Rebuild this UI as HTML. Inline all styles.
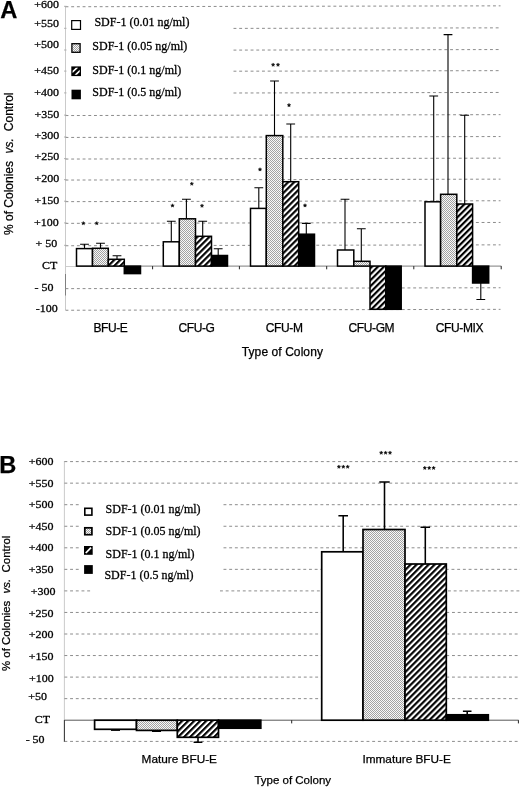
<!DOCTYPE html>
<html><head><meta charset="utf-8"><title>Figure</title>
<style>
html,body{margin:0;padding:0;background:#fff;}
body{width:520px;height:788px;overflow:hidden;font-family:"Liberation Sans",sans-serif;}
svg{display:block;filter:grayscale(1);}
.ser{font-family:"Liberation Serif",serif;stroke:#000;stroke-width:0.28px;}
.san{font-family:"Liberation Sans",sans-serif;stroke:#000;stroke-width:0.25px;}
</style></head><body>
<svg width="520" height="788" viewBox="0 0 520 788">
<defs>
<pattern id="dots" width="2" height="2" patternUnits="userSpaceOnUse">
<rect width="2" height="2" fill="#f8f8f8"/>
<rect x="0" y="0" width="1" height="1" fill="#a2a2a2"/>
<rect x="1" y="1" width="1" height="1" fill="#a2a2a2"/>
</pattern>
<pattern id="hatch" width="4.25" height="4.25" patternUnits="userSpaceOnUse" patternTransform="rotate(-45)">
<rect width="4.25" height="4.25" fill="#fff"/>
<rect x="0" y="0" width="4.25" height="2.15" fill="#000"/>
</pattern>
<pattern id="hatchs" width="3" height="3" patternUnits="userSpaceOnUse" patternTransform="rotate(-45)">
<rect width="3" height="3" fill="#fff"/>
<rect x="0" y="0" width="3" height="1.6" fill="#000"/>
</pattern>
</defs>
<rect width="520" height="788" fill="#fff"/>

<line x1="65.5" y1="6" x2="65.5" y2="310" stroke="#c4c4c4" stroke-width="0.9"/>
<line x1="65.5" y1="274" x2="65.5" y2="295.5" stroke="#777" stroke-width="0.9"/>
<line x1="65.5" y1="6.75" x2="500.5" y2="5.85" stroke="#8c8c8c" stroke-width="1.0" stroke-dasharray="2.9 2.8"/>
<line x1="233.5" y1="28.40" x2="500.5" y2="27.85" stroke="#8c8c8c" stroke-width="1.0" stroke-dasharray="2.9 2.8"/>
<line x1="233.5" y1="50.10" x2="500.5" y2="49.55" stroke="#8c8c8c" stroke-width="1.0" stroke-dasharray="2.9 2.8"/>
<line x1="233.5" y1="71.20" x2="500.5" y2="70.65" stroke="#8c8c8c" stroke-width="1.0" stroke-dasharray="2.9 2.8"/>
<line x1="233.5" y1="93.00" x2="500.5" y2="92.45" stroke="#8c8c8c" stroke-width="1.0" stroke-dasharray="2.9 2.8"/>
<line x1="65.5" y1="115.55" x2="500.5" y2="114.65" stroke="#8c8c8c" stroke-width="1.0" stroke-dasharray="2.9 2.8"/>
<line x1="65.5" y1="137.45" x2="500.5" y2="136.55" stroke="#8c8c8c" stroke-width="1.0" stroke-dasharray="2.9 2.8"/>
<line x1="65.5" y1="159.05" x2="500.5" y2="158.15" stroke="#8c8c8c" stroke-width="1.0" stroke-dasharray="2.9 2.8"/>
<line x1="65.5" y1="180.05" x2="500.5" y2="179.15" stroke="#8c8c8c" stroke-width="1.0" stroke-dasharray="2.9 2.8"/>
<line x1="65.5" y1="201.65" x2="500.5" y2="200.75" stroke="#8c8c8c" stroke-width="1.0" stroke-dasharray="2.9 2.8"/>
<line x1="65.5" y1="223.35" x2="500.5" y2="222.45" stroke="#8c8c8c" stroke-width="1.0" stroke-dasharray="2.9 2.8"/>
<line x1="65.5" y1="245.75" x2="500.5" y2="244.85" stroke="#8c8c8c" stroke-width="1.0" stroke-dasharray="2.9 2.8"/>
<line x1="65.5" y1="288.65" x2="500.5" y2="287.75" stroke="#8c8c8c" stroke-width="1.0" stroke-dasharray="2.9 2.8"/>
<line x1="65.5" y1="310.25" x2="500.5" y2="309.35" stroke="#8c8c8c" stroke-width="1.0" stroke-dasharray="2.9 2.8"/>
<line x1="64.0" y1="6.30" x2="66.5" y2="6.30" stroke="#aaa" stroke-width="0.9"/>
<line x1="64.0" y1="28.30" x2="66.5" y2="28.30" stroke="#aaa" stroke-width="0.9"/>
<line x1="64.0" y1="50.00" x2="66.5" y2="50.00" stroke="#aaa" stroke-width="0.9"/>
<line x1="64.0" y1="71.10" x2="66.5" y2="71.10" stroke="#aaa" stroke-width="0.9"/>
<line x1="64.0" y1="92.90" x2="66.5" y2="92.90" stroke="#aaa" stroke-width="0.9"/>
<line x1="64.0" y1="115.10" x2="66.5" y2="115.10" stroke="#aaa" stroke-width="0.9"/>
<line x1="64.0" y1="137.00" x2="66.5" y2="137.00" stroke="#aaa" stroke-width="0.9"/>
<line x1="64.0" y1="158.60" x2="66.5" y2="158.60" stroke="#aaa" stroke-width="0.9"/>
<line x1="64.0" y1="179.60" x2="66.5" y2="179.60" stroke="#aaa" stroke-width="0.9"/>
<line x1="64.0" y1="201.20" x2="66.5" y2="201.20" stroke="#aaa" stroke-width="0.9"/>
<line x1="64.0" y1="222.90" x2="66.5" y2="222.90" stroke="#aaa" stroke-width="0.9"/>
<line x1="64.0" y1="245.30" x2="66.5" y2="245.30" stroke="#aaa" stroke-width="0.9"/>
<line x1="65.5" y1="266.5" x2="76.5" y2="266.5" stroke="#c8c8c8" stroke-width="0.9"/>
<line x1="76.5" y1="266.1" x2="501.3" y2="266.1" stroke="#666" stroke-width="0.85"/>
<line x1="152.6" y1="266.1" x2="152.6" y2="269.3" stroke="#222" stroke-width="1"/>
<line x1="239.4" y1="266.1" x2="239.4" y2="269.3" stroke="#222" stroke-width="1"/>
<line x1="326.7" y1="266.1" x2="326.7" y2="269.3" stroke="#222" stroke-width="1"/>
<line x1="413.8" y1="266.1" x2="413.8" y2="269.3" stroke="#222" stroke-width="1"/>
<line x1="501.2" y1="266.1" x2="501.2" y2="269.3" stroke="#222" stroke-width="1"/>
<path d="M84.50,248.60 L84.50,244.30 M80.10,244.30 L88.90,244.30" stroke="#000" stroke-width="1.1" fill="none"/>
<path d="M100.50,248.30 L100.50,243.30 M96.10,243.30 L104.90,243.30" stroke="#000" stroke-width="1.1" fill="none"/>
<path d="M117.00,259.30 L117.00,255.80 M112.60,255.80 L121.40,255.80" stroke="#000" stroke-width="1.1" fill="none"/>
<path d="M171.30,241.80 L171.30,221.30 M166.90,221.30 L175.70,221.30" stroke="#000" stroke-width="1.1" fill="none"/>
<path d="M186.40,218.80 L186.40,199.30 M182.00,199.30 L190.80,199.30" stroke="#000" stroke-width="1.1" fill="none"/>
<path d="M202.70,236.30 L202.70,221.30 M198.30,221.30 L207.10,221.30" stroke="#000" stroke-width="1.1" fill="none"/>
<path d="M218.20,255.50 L218.20,248.80 M213.80,248.80 L222.60,248.80" stroke="#000" stroke-width="1.1" fill="none"/>
<path d="M258.80,208.40 L258.80,187.70 M254.40,187.70 L263.20,187.70" stroke="#000" stroke-width="1.1" fill="none"/>
<path d="M274.50,135.60 L274.50,81.00 M270.10,81.00 L278.90,81.00" stroke="#000" stroke-width="1.1" fill="none"/>
<path d="M290.70,181.70 L290.70,124.00 M286.30,124.00 L295.10,124.00" stroke="#000" stroke-width="1.1" fill="none"/>
<path d="M306.30,234.20 L306.30,223.40 M301.90,223.40 L310.70,223.40" stroke="#000" stroke-width="1.1" fill="none"/>
<path d="M345.00,250.00 L345.00,199.30 M340.60,199.30 L349.40,199.30" stroke="#000" stroke-width="1.1" fill="none"/>
<path d="M361.30,261.30 L361.30,228.80 M356.90,228.80 L365.70,228.80" stroke="#000" stroke-width="1.1" fill="none"/>
<path d="M433.70,201.80 L433.70,96.00 M429.30,96.00 L438.10,96.00" stroke="#000" stroke-width="1.1" fill="none"/>
<path d="M448.00,194.30 L448.00,34.60 M443.60,34.60 L452.40,34.60" stroke="#000" stroke-width="1.1" fill="none"/>
<path d="M464.70,204.00 L464.70,115.30 M460.30,115.30 L469.10,115.30" stroke="#000" stroke-width="1.1" fill="none"/>
<path d="M480.80,283.00 L480.80,299.50 M476.40,299.50 L485.20,299.50" stroke="#000" stroke-width="1.1" fill="none"/>
<rect x="76.50" y="248.60" width="16.00" height="17.50" fill="#fff" stroke="#000" stroke-width="1.5"/>
<rect x="92.50" y="248.30" width="15.80" height="17.80" fill="url(#dots)" stroke="#000" stroke-width="1.5"/>
<rect x="108.30" y="259.30" width="16.00" height="6.80" fill="url(#hatch)" stroke="#000" stroke-width="1.5"/>
<rect x="124.30" y="266.10" width="16.20" height="7.50" fill="#000" stroke="#000" stroke-width="1.5"/>
<rect x="163.30" y="241.80" width="16.00" height="24.30" fill="#fff" stroke="#000" stroke-width="1.5"/>
<rect x="179.30" y="218.80" width="16.20" height="47.30" fill="url(#dots)" stroke="#000" stroke-width="1.5"/>
<rect x="195.50" y="236.30" width="16.00" height="29.80" fill="url(#hatch)" stroke="#000" stroke-width="1.5"/>
<rect x="211.50" y="255.50" width="16.00" height="10.60" fill="#000" stroke="#000" stroke-width="1.5"/>
<rect x="250.50" y="208.40" width="15.80" height="57.70" fill="#fff" stroke="#000" stroke-width="1.5"/>
<rect x="266.30" y="135.60" width="16.50" height="130.50" fill="url(#dots)" stroke="#000" stroke-width="1.5"/>
<rect x="282.80" y="181.70" width="15.90" height="84.40" fill="url(#hatch)" stroke="#000" stroke-width="1.5"/>
<rect x="298.70" y="234.20" width="15.80" height="31.90" fill="#000" stroke="#000" stroke-width="1.5"/>
<rect x="337.50" y="250.00" width="16.30" height="16.10" fill="#fff" stroke="#000" stroke-width="1.5"/>
<rect x="353.80" y="261.30" width="16.20" height="4.80" fill="url(#dots)" stroke="#000" stroke-width="1.5"/>
<rect x="370.00" y="266.10" width="15.80" height="43.20" fill="url(#hatch)" stroke="#000" stroke-width="1.5"/>
<rect x="385.80" y="266.10" width="15.40" height="43.20" fill="#000" stroke="#000" stroke-width="1.5"/>
<rect x="425.00" y="201.80" width="15.60" height="64.30" fill="#fff" stroke="#000" stroke-width="1.5"/>
<rect x="440.60" y="194.30" width="16.20" height="71.80" fill="url(#dots)" stroke="#000" stroke-width="1.5"/>
<rect x="456.80" y="204.00" width="15.80" height="62.10" fill="url(#hatch)" stroke="#000" stroke-width="1.5"/>
<rect x="472.60" y="266.10" width="16.10" height="16.90" fill="#000" stroke="#000" stroke-width="1.5"/>
<path transform="translate(83.30,223.30)" d="M0.00,-1.85 L0.46,-0.63 L1.76,-0.57 L0.74,0.24 L1.09,1.50 L0.00,0.78 L-1.09,1.50 L-0.74,0.24 L-1.76,-0.57 L-0.46,-0.63 Z" fill="#000" stroke="#000" stroke-width="0.45" stroke-linejoin="round"/>
<path transform="translate(96.80,223.30)" d="M0.00,-1.85 L0.46,-0.63 L1.76,-0.57 L0.74,0.24 L1.09,1.50 L0.00,0.78 L-1.09,1.50 L-0.74,0.24 L-1.76,-0.57 L-0.46,-0.63 Z" fill="#000" stroke="#000" stroke-width="0.45" stroke-linejoin="round"/>
<path transform="translate(172.50,205.60)" d="M0.00,-1.85 L0.46,-0.63 L1.76,-0.57 L0.74,0.24 L1.09,1.50 L0.00,0.78 L-1.09,1.50 L-0.74,0.24 L-1.76,-0.57 L-0.46,-0.63 Z" fill="#000" stroke="#000" stroke-width="0.45" stroke-linejoin="round"/>
<path transform="translate(191.80,183.80)" d="M0.00,-1.85 L0.46,-0.63 L1.76,-0.57 L0.74,0.24 L1.09,1.50 L0.00,0.78 L-1.09,1.50 L-0.74,0.24 L-1.76,-0.57 L-0.46,-0.63 Z" fill="#000" stroke="#000" stroke-width="0.45" stroke-linejoin="round"/>
<path transform="translate(202.00,205.80)" d="M0.00,-1.85 L0.46,-0.63 L1.76,-0.57 L0.74,0.24 L1.09,1.50 L0.00,0.78 L-1.09,1.50 L-0.74,0.24 L-1.76,-0.57 L-0.46,-0.63 Z" fill="#000" stroke="#000" stroke-width="0.45" stroke-linejoin="round"/>
<path transform="translate(260.00,169.50)" d="M0.00,-1.85 L0.46,-0.63 L1.76,-0.57 L0.74,0.24 L1.09,1.50 L0.00,0.78 L-1.09,1.50 L-0.74,0.24 L-1.76,-0.57 L-0.46,-0.63 Z" fill="#000" stroke="#000" stroke-width="0.45" stroke-linejoin="round"/>
<path transform="translate(273.10,64.80)" d="M0.00,-1.85 L0.46,-0.63 L1.76,-0.57 L0.74,0.24 L1.09,1.50 L0.00,0.78 L-1.09,1.50 L-0.74,0.24 L-1.76,-0.57 L-0.46,-0.63 Z" fill="#000" stroke="#000" stroke-width="0.45" stroke-linejoin="round"/>
<path transform="translate(278.00,64.80)" d="M0.00,-1.85 L0.46,-0.63 L1.76,-0.57 L0.74,0.24 L1.09,1.50 L0.00,0.78 L-1.09,1.50 L-0.74,0.24 L-1.76,-0.57 L-0.46,-0.63 Z" fill="#000" stroke="#000" stroke-width="0.45" stroke-linejoin="round"/>
<path transform="translate(289.00,105.20)" d="M0.00,-1.85 L0.46,-0.63 L1.76,-0.57 L0.74,0.24 L1.09,1.50 L0.00,0.78 L-1.09,1.50 L-0.74,0.24 L-1.76,-0.57 L-0.46,-0.63 Z" fill="#000" stroke="#000" stroke-width="0.45" stroke-linejoin="round"/>
<path transform="translate(305.00,205.50)" d="M0.00,-1.85 L0.46,-0.63 L1.76,-0.57 L0.74,0.24 L1.09,1.50 L0.00,0.78 L-1.09,1.50 L-0.74,0.24 L-1.76,-0.57 L-0.46,-0.63 Z" fill="#000" stroke="#000" stroke-width="0.45" stroke-linejoin="round"/>
<rect x="71.7" y="20.6" width="8.8" height="8.8" fill="#fff" stroke="#000" stroke-width="1.2"/>
<rect x="71.9" y="43.7" width="8.2" height="8.6" fill="url(#dots)" stroke="#000" stroke-width="1.3"/>
<g transform="translate(71.3,66.4)"><rect x="0" y="0" width="9.7" height="9.7" fill="#000"/><path d="M1.3,6.6 L1.3,4.3 L4.5,1.3 L6.9,1.3 Z M3.2,8.4 L8.4,3.4 L8.4,5.7 L5.6,8.4 Z" fill="#fff"/></g>
<rect x="71.5" y="89.7" width="9.4" height="9.6" fill="#000"/>
<text class="ser" x="94.40" y="26.20" font-size="12" text-anchor="start" >SDF-1 (0.01 ng/ml)</text>
<text class="ser" x="92.30" y="49.60" font-size="12" text-anchor="start" >SDF-1 (0.05 ng/ml)</text>
<text class="ser" x="92.30" y="73.60" font-size="12" text-anchor="start" >SDF-1 (0.1 ng/ml)</text>
<text class="ser" x="92.30" y="95.80" font-size="12" text-anchor="start" >SDF-1 (0.5 ng/ml)</text>
<text class="ser" transform="translate(58.90,7.80) scale(1.07,1)" font-size="11.2" text-anchor="end">+600</text>
<text class="ser" transform="translate(58.90,27.10) scale(1.07,1)" font-size="11.2" text-anchor="end">+550</text>
<text class="ser" transform="translate(58.90,48.40) scale(1.07,1)" font-size="11.2" text-anchor="end">+500</text>
<text class="ser" transform="translate(58.90,73.90) scale(1.07,1)" font-size="11.2" text-anchor="end">+450</text>
<text class="ser" transform="translate(58.90,95.50) scale(1.07,1)" font-size="11.2" text-anchor="end">+400</text>
<text class="ser" transform="translate(59.20,117.50) scale(1.07,1)" font-size="11.2" text-anchor="end">+350</text>
<text class="ser" transform="translate(59.30,138.90) scale(1.07,1)" font-size="11.2" text-anchor="end">+300</text>
<text class="ser" transform="translate(59.30,160.30) scale(1.07,1)" font-size="11.2" text-anchor="end">+250</text>
<text class="ser" transform="translate(59.30,181.90) scale(1.07,1)" font-size="11.2" text-anchor="end">+200</text>
<text class="ser" transform="translate(59.30,203.70) scale(1.07,1)" font-size="11.2" text-anchor="end">+150</text>
<text class="ser" transform="translate(58.80,225.60) scale(1.07,1)" font-size="11.2" text-anchor="end">+100</text>
<text class="ser" transform="translate(57.20,247.30) scale(1.07,1)" font-size="11.2" text-anchor="end">+ 50</text>
<text class="ser" transform="translate(57.30,269.40) scale(1.07,1)" font-size="11.2" text-anchor="end">CT</text>
<text class="ser" transform="translate(53.40,290.70) scale(1.07,1)" font-size="11.2" text-anchor="end">- 50</text>
<text class="ser" transform="translate(57.80,312.00) scale(1.07,1)" font-size="11.2" text-anchor="end">-100</text>
<text class="san" x="0.30" y="17.90" font-size="23.7" text-anchor="start" font-weight="bold">A</text>
<g class="san" font-size="12" transform="translate(13.1,0) rotate(-90)"><text x="-235" y="0">% of Colonies</text><text x="-153.6" y="0" font-style="italic">vs.</text><text x="-131.2" y="0">Control</text></g>
<text class="san" x="93.40" y="331.80" font-size="12" text-anchor="start" letter-spacing="-0.38">BFU-E</text>
<text class="san" x="178.40" y="331.80" font-size="12" text-anchor="start" letter-spacing="-0.38">CFU-G</text>
<text class="san" x="265.80" y="331.80" font-size="12" text-anchor="start" letter-spacing="-0.38">CFU-M</text>
<text class="san" x="348.50" y="331.80" font-size="12" text-anchor="start" letter-spacing="-0.38">CFU-GM</text>
<text class="san" x="435.80" y="331.80" font-size="12" text-anchor="start" letter-spacing="-0.38">CFU-MIX</text>
<text class="san" x="241.80" y="355.70" font-size="12" text-anchor="start" letter-spacing="0.08">Type of Colony</text>
<line x1="64.4" y1="461" x2="64.4" y2="742" stroke="#c4c4c4" stroke-width="0.9"/>
<line x1="64.4" y1="720" x2="64.4" y2="742" stroke="#333" stroke-width="1"/>
<line x1="64.4" y1="461.60" x2="520" y2="461.60" stroke="#8c8c8c" stroke-width="1.0" stroke-dasharray="2.9 2.8"/>
<line x1="64.4" y1="483.15" x2="520" y2="483.15" stroke="#8c8c8c" stroke-width="1.0" stroke-dasharray="2.9 2.8"/>
<line x1="64.4" y1="504.70" x2="79" y2="504.70" stroke="#8c8c8c" stroke-width="1.0" stroke-dasharray="2.9 2.8"/>
<line x1="223.5" y1="504.70" x2="520" y2="504.70" stroke="#8c8c8c" stroke-width="1.0" stroke-dasharray="2.9 2.8"/>
<line x1="64.4" y1="526.25" x2="79" y2="526.25" stroke="#8c8c8c" stroke-width="1.0" stroke-dasharray="2.9 2.8"/>
<line x1="223.5" y1="526.25" x2="520" y2="526.25" stroke="#8c8c8c" stroke-width="1.0" stroke-dasharray="2.9 2.8"/>
<line x1="64.4" y1="547.80" x2="79" y2="547.80" stroke="#8c8c8c" stroke-width="1.0" stroke-dasharray="2.9 2.8"/>
<line x1="223.5" y1="547.80" x2="520" y2="547.80" stroke="#8c8c8c" stroke-width="1.0" stroke-dasharray="2.9 2.8"/>
<line x1="64.4" y1="569.35" x2="79" y2="569.35" stroke="#8c8c8c" stroke-width="1.0" stroke-dasharray="2.9 2.8"/>
<line x1="223.5" y1="569.35" x2="520" y2="569.35" stroke="#8c8c8c" stroke-width="1.0" stroke-dasharray="2.9 2.8"/>
<line x1="64.4" y1="590.90" x2="90.5" y2="590.90" stroke="#8c8c8c" stroke-width="1.0" stroke-dasharray="2.9 2.8"/>
<line x1="220" y1="590.90" x2="520" y2="590.90" stroke="#8c8c8c" stroke-width="1.0" stroke-dasharray="2.9 2.8"/>
<line x1="64.4" y1="612.45" x2="520" y2="612.45" stroke="#8c8c8c" stroke-width="1.0" stroke-dasharray="2.9 2.8"/>
<line x1="64.4" y1="634.00" x2="520" y2="634.00" stroke="#8c8c8c" stroke-width="1.0" stroke-dasharray="2.9 2.8"/>
<line x1="64.4" y1="655.55" x2="520" y2="655.55" stroke="#8c8c8c" stroke-width="1.0" stroke-dasharray="2.9 2.8"/>
<line x1="64.4" y1="677.10" x2="520" y2="677.10" stroke="#8c8c8c" stroke-width="1.0" stroke-dasharray="2.9 2.8"/>
<line x1="64.4" y1="698.65" x2="520" y2="698.65" stroke="#8c8c8c" stroke-width="1.0" stroke-dasharray="2.9 2.8"/>
<line x1="64.4" y1="741.40" x2="520" y2="741.40" stroke="#8c8c8c" stroke-width="1.0" stroke-dasharray="2.9 2.8"/>
<line x1="64.4" y1="720.2" x2="518.6" y2="720.2" stroke="#444" stroke-width="0.9"/>
<line x1="291.7" y1="720.2" x2="291.7" y2="723.4000000000001" stroke="#222" stroke-width="1"/>
<line x1="518.4" y1="720.2" x2="518.4" y2="723.4000000000001" stroke="#222" stroke-width="1"/>
<path d="M198.00,737.30 L198.00,742.20 M193.60,742.20 L202.40,742.20" stroke="#000" stroke-width="1.55" fill="none"/>
<path d="M343.20,551.80 L343.20,515.80 M338.40,515.80 L348.00,515.80" stroke="#000" stroke-width="1.55" fill="none"/>
<path d="M384.50,529.50 L384.50,482.00 M379.30,482.00 L389.70,482.00" stroke="#000" stroke-width="1.55" fill="none"/>
<path d="M425.30,564.00 L425.30,527.20 M420.50,527.20 L430.10,527.20" stroke="#000" stroke-width="1.55" fill="none"/>
<path d="M467.20,714.80 L467.20,711.20 M462.90,711.20 L471.50,711.20" stroke="#000" stroke-width="1.55" fill="none"/>
<line x1="111" y1="730.3" x2="120" y2="730.3" stroke="#000" stroke-width="1.2"/>
<line x1="152" y1="731.4" x2="161" y2="731.4" stroke="#000" stroke-width="1.2"/>
<rect x="94.60" y="720.20" width="41.90" height="9.10" fill="#fff" stroke="#000" stroke-width="1.7"/>
<rect x="136.50" y="720.20" width="40.80" height="10.20" fill="url(#dots)" stroke="#000" stroke-width="1.7"/>
<rect x="177.30" y="720.20" width="41.20" height="17.10" fill="url(#hatch)" stroke="#000" stroke-width="1.7"/>
<rect x="218.50" y="720.20" width="42.30" height="8.00" fill="#000" stroke="#000" stroke-width="1.7"/>
<rect x="321.70" y="551.80" width="41.30" height="168.40" fill="#fff" stroke="#000" stroke-width="1.7"/>
<rect x="363.00" y="529.50" width="42.00" height="190.70" fill="url(#dots)" stroke="#000" stroke-width="1.7"/>
<rect x="405.00" y="564.00" width="41.30" height="156.20" fill="url(#hatch)" stroke="#000" stroke-width="1.7"/>
<rect x="446.30" y="714.80" width="42.00" height="5.40" fill="#000" stroke="#000" stroke-width="1.7"/>
<path transform="translate(338.90,466.80)" d="M0.00,-1.85 L0.46,-0.63 L1.76,-0.57 L0.74,0.24 L1.09,1.50 L0.00,0.78 L-1.09,1.50 L-0.74,0.24 L-1.76,-0.57 L-0.46,-0.63 Z" fill="#000" stroke="#000" stroke-width="0.45" stroke-linejoin="round"/>
<path transform="translate(343.30,466.80)" d="M0.00,-1.85 L0.46,-0.63 L1.76,-0.57 L0.74,0.24 L1.09,1.50 L0.00,0.78 L-1.09,1.50 L-0.74,0.24 L-1.76,-0.57 L-0.46,-0.63 Z" fill="#000" stroke="#000" stroke-width="0.45" stroke-linejoin="round"/>
<path transform="translate(347.70,466.80)" d="M0.00,-1.85 L0.46,-0.63 L1.76,-0.57 L0.74,0.24 L1.09,1.50 L0.00,0.78 L-1.09,1.50 L-0.74,0.24 L-1.76,-0.57 L-0.46,-0.63 Z" fill="#000" stroke="#000" stroke-width="0.45" stroke-linejoin="round"/>
<path transform="translate(381.20,452.80)" d="M0.00,-1.85 L0.46,-0.63 L1.76,-0.57 L0.74,0.24 L1.09,1.50 L0.00,0.78 L-1.09,1.50 L-0.74,0.24 L-1.76,-0.57 L-0.46,-0.63 Z" fill="#000" stroke="#000" stroke-width="0.45" stroke-linejoin="round"/>
<path transform="translate(385.60,452.80)" d="M0.00,-1.85 L0.46,-0.63 L1.76,-0.57 L0.74,0.24 L1.09,1.50 L0.00,0.78 L-1.09,1.50 L-0.74,0.24 L-1.76,-0.57 L-0.46,-0.63 Z" fill="#000" stroke="#000" stroke-width="0.45" stroke-linejoin="round"/>
<path transform="translate(390.00,452.80)" d="M0.00,-1.85 L0.46,-0.63 L1.76,-0.57 L0.74,0.24 L1.09,1.50 L0.00,0.78 L-1.09,1.50 L-0.74,0.24 L-1.76,-0.57 L-0.46,-0.63 Z" fill="#000" stroke="#000" stroke-width="0.45" stroke-linejoin="round"/>
<path transform="translate(424.80,468.00)" d="M0.00,-1.85 L0.46,-0.63 L1.76,-0.57 L0.74,0.24 L1.09,1.50 L0.00,0.78 L-1.09,1.50 L-0.74,0.24 L-1.76,-0.57 L-0.46,-0.63 Z" fill="#000" stroke="#000" stroke-width="0.45" stroke-linejoin="round"/>
<path transform="translate(429.20,468.00)" d="M0.00,-1.85 L0.46,-0.63 L1.76,-0.57 L0.74,0.24 L1.09,1.50 L0.00,0.78 L-1.09,1.50 L-0.74,0.24 L-1.76,-0.57 L-0.46,-0.63 Z" fill="#000" stroke="#000" stroke-width="0.45" stroke-linejoin="round"/>
<path transform="translate(433.60,468.00)" d="M0.00,-1.85 L0.46,-0.63 L1.76,-0.57 L0.74,0.24 L1.09,1.50 L0.00,0.78 L-1.09,1.50 L-0.74,0.24 L-1.76,-0.57 L-0.46,-0.63 Z" fill="#000" stroke="#000" stroke-width="0.45" stroke-linejoin="round"/>
<rect x="84.8" y="508.3" width="7.1" height="6.8" fill="#fff" stroke="#000" stroke-width="1.6"/>
<rect x="84.8" y="527.8" width="7.1" height="6.9" fill="url(#dots)" stroke="#000" stroke-width="1.7"/>
<rect x="84" y="546" width="8.7" height="8.8" fill="#000"/><path d="M85.8,553.0 L91.0,547.6" stroke="#fff" stroke-width="1.8" fill="none"/>
<rect x="84.1" y="565.1" width="8.7" height="8.8" fill="#000"/>
<text class="ser" x="105.60" y="513.40" font-size="12" text-anchor="start" >SDF-1 (0.01 ng/ml)</text>
<text class="ser" x="105.60" y="535.40" font-size="12" text-anchor="start" >SDF-1 (0.05 ng/ml)</text>
<text class="ser" x="105.60" y="557.50" font-size="12" text-anchor="start" >SDF-1 (0.1 ng/ml)</text>
<text class="ser" x="104.40" y="579.30" font-size="12" text-anchor="start" >SDF-1 (0.5 ng/ml)</text>
<text class="ser" transform="translate(53.40,464.80) scale(1.07,1)" font-size="11.2" text-anchor="end">+600</text>
<text class="ser" transform="translate(53.40,486.50) scale(1.07,1)" font-size="11.2" text-anchor="end">+550</text>
<text class="ser" transform="translate(53.40,508.30) scale(1.07,1)" font-size="11.2" text-anchor="end">+500</text>
<text class="ser" transform="translate(53.40,530.00) scale(1.07,1)" font-size="11.2" text-anchor="end">+450</text>
<text class="ser" transform="translate(53.40,551.40) scale(1.07,1)" font-size="11.2" text-anchor="end">+400</text>
<text class="ser" transform="translate(53.40,573.20) scale(1.07,1)" font-size="11.2" text-anchor="end">+350</text>
<text class="ser" transform="translate(55.40,594.70) scale(1.07,1)" font-size="11.2" text-anchor="end">+300</text>
<text class="ser" transform="translate(53.40,616.60) scale(1.07,1)" font-size="11.2" text-anchor="end">+250</text>
<text class="ser" transform="translate(53.40,638.10) scale(1.07,1)" font-size="11.2" text-anchor="end">+200</text>
<text class="ser" transform="translate(53.40,660.00) scale(1.07,1)" font-size="11.2" text-anchor="end">+150</text>
<text class="ser" transform="translate(53.80,682.00) scale(1.07,1)" font-size="11.2" text-anchor="end">+100</text>
<text class="ser" transform="translate(46.90,699.50) scale(1.07,1)" font-size="11.2" text-anchor="end">+50</text>
<text class="ser" transform="translate(50.10,723.30) scale(1.07,1)" font-size="11.2" text-anchor="end">CT</text>
<text class="ser" transform="translate(44.60,743.30) scale(1.07,1)" font-size="11.2" text-anchor="end">- 50</text>
<text class="san" x="-0.70" y="473.40" font-size="23.6" text-anchor="start" font-weight="bold">B</text>
<g class="san" font-size="11.4" transform="translate(10.3,0) rotate(-90)"><text x="-671" y="0">% of Colonies</text><text x="-593.5" y="0" font-style="italic">vs.</text><text x="-572.4" y="0">Control</text></g>
<text class="san" x="141.60" y="762.80" font-size="11.8" text-anchor="start" >Mature BFU-E</text>
<text class="san" x="362.40" y="762.80" font-size="11.8" text-anchor="start" >Immature BFU-E</text>
<text class="san" x="254.40" y="783.60" font-size="11.5" text-anchor="start" >Type of Colony</text>
</svg></body></html>
